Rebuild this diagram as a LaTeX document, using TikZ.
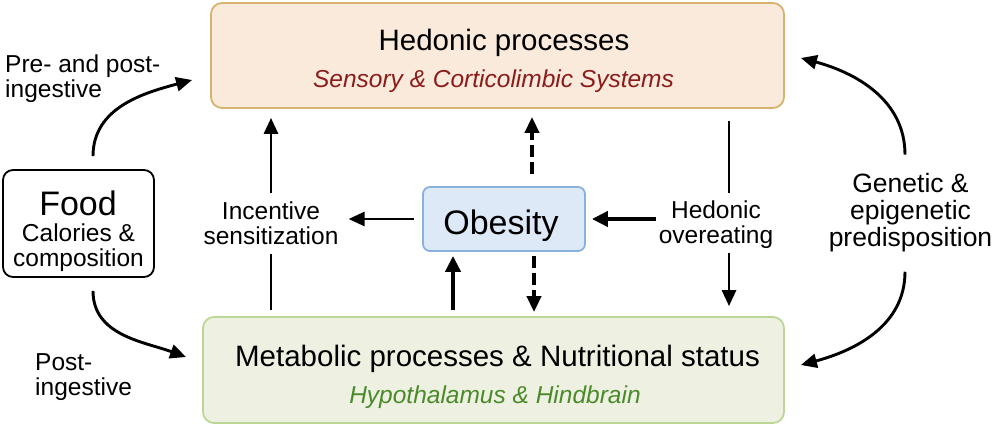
\documentclass[tikz,border=0pt]{standalone}
\usepackage{fontspec}
\setmainfont{Liberation Sans}
\usetikzlibrary{arrows.meta,positioning}
\definecolor{hedfill}{HTML}{F9EADB}
\definecolor{hedline}{HTML}{D6B36E}
\definecolor{metfill}{HTML}{EEF1E1}
\definecolor{metline}{HTML}{BCD795}
\definecolor{obefill}{HTML}{DDE9F7}
\definecolor{obeline}{HTML}{8AB0DD}
\definecolor{darkred}{HTML}{8B1C1C}
\definecolor{leafgreen}{HTML}{4B8A2A}

\begin{document}
\begin{tikzpicture}[x=1pt, y=-1pt,
  box/.style={rectangle, rounded corners=11pt, line width=1.8pt, inner sep=0pt},
  title/.style={anchor=base, inner sep=0pt, font=\fontsize{29.5}{35}\selectfont},
  subtitle/.style={anchor=base, inner sep=0pt, font=\fontsize{24.5}{29}\selectfont\itshape},
  big/.style={anchor=base, inner sep=0pt, font=\fontsize{34}{40}\selectfont},
  lbl/.style={align=center, inner sep=0pt, font=\fontsize{24.5}{25}\selectfont},
  arr/.style={line width=2.9pt, -{Triangle[length=16pt,width=14pt]}},
  fatarr/.style={line width=4.2pt, -{Triangle[length=16pt,width=15pt]}},
  dasharr/.style={arr, line width=3.9pt, dash pattern=on 12pt off 5pt}]
  \useasboundingbox (0,0) rectangle (996,426);

  \node[box, draw=hedline, fill=hedfill, minimum width=573pt, minimum height=105pt] (hed) at (497.5,55.5) {};
  \node[title] (hedtitle) at (504,50) {Hedonic processes};
  \node[subtitle, text=darkred] (hedsub) at (493.5,87) {Sensory \& Corticolimbic Systems};

  \node[box, draw=metline, fill=metfill, minimum width=581pt, minimum height=106pt] (met) at (493.5,370) {};
  \node[title] (mettitle) at (497.5,366) {Metabolic processes \& Nutritional status};
  \node[subtitle, text=leafgreen] (metsub) at (495,403) {Hypothalamus \& Hindbrain};

  \node[box, rounded corners=7pt, draw=obeline, fill=obefill, minimum width=162pt, minimum height=64pt] (obe) at (504,219) {};
  \node[big] (obetext) at (501,234) {Obesity};

  \node[box, rounded corners=10pt, draw=black, fill=white, line width=1.8pt, minimum width=151pt, minimum height=107pt] (food) at (78.5,223.5) {};
  \node[big] (foodtitle) at (78,215) {Food};
  \node[lbl] (foodsub) at (78.5,248) {Calories \&\\composition};

  \node[lbl, align=left, anchor=north west] (pre) at (5,55) {Pre- and post-\\ingestive};
  \node[lbl, align=left, anchor=north west] (post) at (35,353) {Post-\\ingestive};
  \node[lbl] (inc) at (271,222.8) {Incentive\\sensitization};
  \node[lbl] (hov) at (716,224.8) {Hedonic\\overeating};
  \node[lbl, font=\fontsize{26.5}{27}\selectfont] (gen) at (910.5,212.2) {Genetic \&\\epigenetic\\predisposition};

  \coordinate (hovx) at ([xshift=13pt]hov.north);
  \coordinate (dashup) at ([xshift=28pt]obe.north);
  \coordinate (dashdown) at ([xshift=30pt]obe.south);
  \coordinate (upx) at ([xshift=-51pt]obe.south);

  \draw[arr] ([xshift=14.5pt,yshift=13pt]food.north) to[out=90,in=195] ([xshift=-18pt,yshift=-24.5pt]hed.west);
  \draw[arr] ([xshift=14.5pt,yshift=-13pt]food.south) to[out=-90,in=160] ([xshift=-16pt,yshift=13pt]met.west);
  \draw[arr] ([xshift=-5.5pt,yshift=18pt]gen.north) to[out=90,in=-15] ([xshift=16pt,yshift=-2.5pt]hed.east);
  \draw[arr] ([xshift=-5.5pt,yshift=-20pt]gen.south) to[out=-90,in=15] ([xshift=16pt,yshift=5pt]met.east);

  \draw[line width=2.9pt, shorten <=6pt] (met.north -| inc) -- ([yshift=-9pt]inc.south);
  \draw[arr, shorten >=9pt] ([yshift=8.5pt]inc.north) -- (hed.south -| inc);
  \draw[arr, shorten <=8pt, shorten >=10pt] (obe.west) -- (obe.west -| inc.east);

  \draw[line width=2.9pt, shorten <=12pt] (hovx |- hed.south) -- ([yshift=7.5pt]hovx);
  \draw[arr, shorten >=10pt] ([xshift=13pt,yshift=-4pt]hov.south) -- (hovx |- met.north);
  \draw[fatarr, shorten <=3pt, shorten >=6pt] (hov.west |- obe.east) -- (obe.east);

  \draw[dasharr, shorten <=12pt, shorten >=8pt] (dashup) -- (dashup |- hed.south);
  \draw[dasharr, shorten <=4pt, shorten >=4pt] (dashdown) -- (dashdown |- met.north);
  \draw[fatarr, shorten <=6.5pt, shorten >=4pt] (upx |- met.north) -- (upx);
\end{tikzpicture}
\end{document}
